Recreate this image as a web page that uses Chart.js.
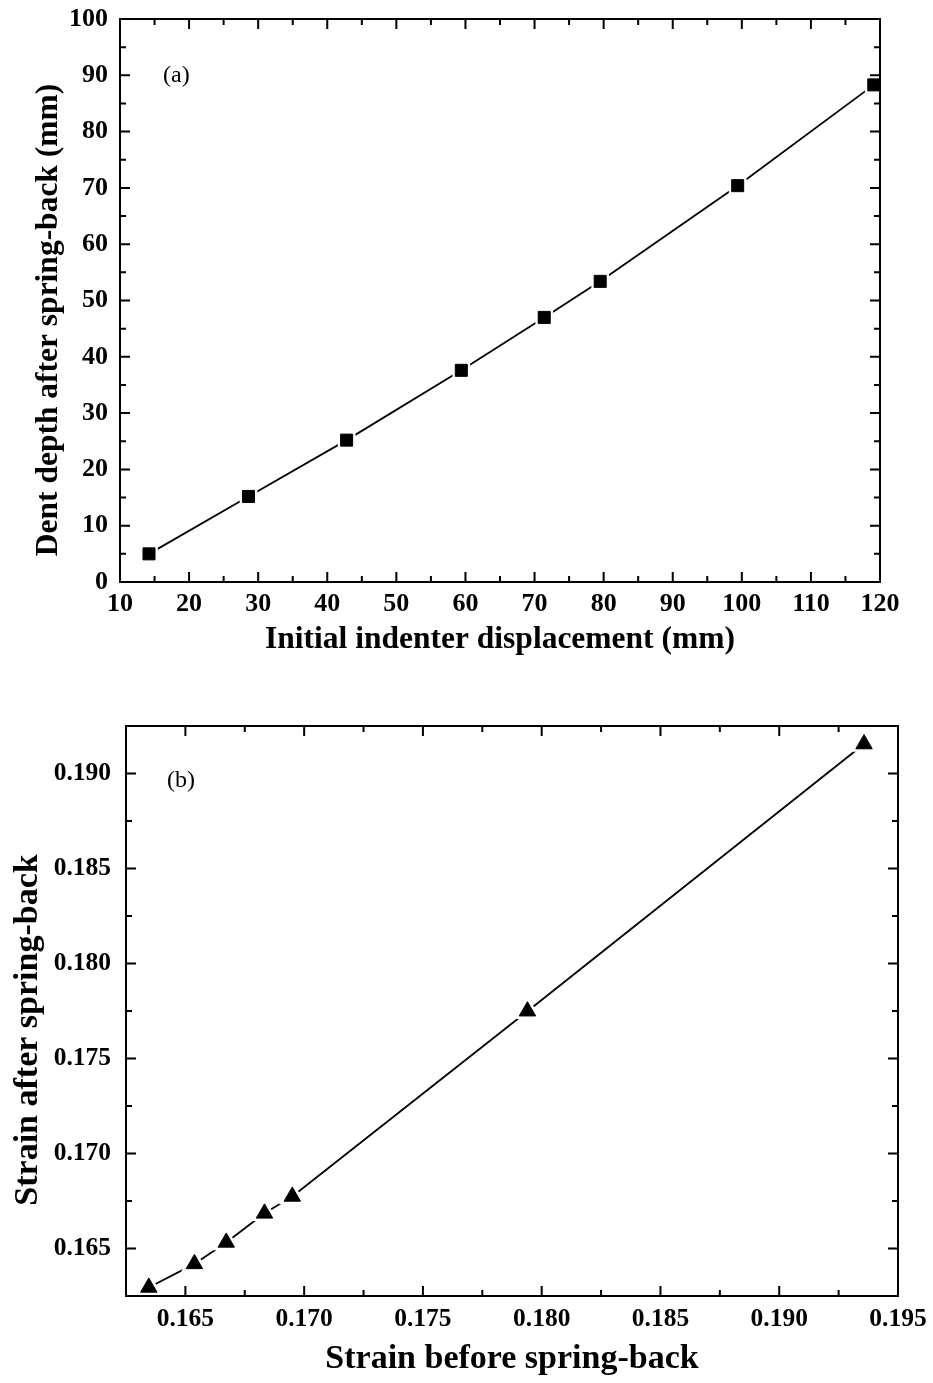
<!DOCTYPE html>
<html>
<head>
<meta charset="utf-8">
<title>Spring-back</title>
<script src="https://cdn.jsdelivr.net/npm/chart.js@4.4.1/dist/chart.umd.min.js"></script>
<style>
  html, body { margin: 0; padding: 0; background: #fff; }
  #wrap { position: relative; width: 933px; height: 1383px; }
  .panel { position: absolute; left: 0; width: 933px; }
</style>
</head>
<body>
<div id="wrap">
  <div class="panel" style="top:0;height:680px"><canvas id="chartA"></canvas></div>
  <div class="panel" style="top:680px;height:703px"><canvas id="chartB"></canvas></div>
</div>
<script>
// (a) indenter displacement vs. residual dent depth
const dispA = [14.2, 28.6, 42.8, 59.4, 71.4, 79.5, 99.4, 119.1];
const dentA = [5.0, 15.2, 25.2, 37.6, 47.0, 53.4, 70.4, 88.3];
const xTicksA = [10, 20, 30, 40, 50, 60, 70, 80, 90, 100, 110, 120];
const yTicksA = [0, 10, 20, 30, 40, 50, 60, 70, 80, 90, 100];

// (b) strain before vs. after spring-back
const strainBefore = [0.16346, 0.16538, 0.16672, 0.16833, 0.16950, 0.17940, 0.19357];
const strainAfter = [0.16295, 0.16419, 0.16532, 0.16685, 0.16774, 0.17749, 0.19155];
const xTicksB = [0.165, 0.170, 0.175, 0.180, 0.185, 0.190, 0.195];
const yTicksB = [0.165, 0.170, 0.175, 0.180, 0.185, 0.190];

const SERIF = '"Liberation Serif", "Times New Roman", serif';

function toPoints(xs, ys) {
    return xs.map(function (x, i) { return { x: x, y: ys[i] }; });
}

function midpoints(ticks) {
    var out = [];
    for (var i = 0; i < ticks.length - 1; i++) out.push((ticks[i] + ticks[i + 1]) / 2);
    return out;
}

// box frame, inward ticks on all four sides, axis titles and panel tag
const framePlugin = {
    id: 'frame',
    afterDraw: function (chart, args, opts) {
        const ctx = chart.ctx;
        const a = chart.chartArea;
        const xs = chart.scales.x, ys = chart.scales.y;
        ctx.save();
        ctx.strokeStyle = '#000';
        ctx.lineWidth = 2;
        ctx.lineCap = 'butt';

        function xTick(v, len) {
            const p = xs.getPixelForValue(v);
            if (p <= a.left + 1 || p >= a.right - 1) return;
            ctx.beginPath();
            ctx.moveTo(p, a.bottom); ctx.lineTo(p, a.bottom - len);
            ctx.moveTo(p, a.top); ctx.lineTo(p, a.top + len);
            ctx.stroke();
        }
        function yTick(v, len) {
            const p = ys.getPixelForValue(v);
            if (p <= a.top + 1 || p >= a.bottom - 1) return;
            ctx.beginPath();
            ctx.moveTo(a.left, p); ctx.lineTo(a.left + len, p);
            ctx.moveTo(a.right, p); ctx.lineTo(a.right - len, p);
            ctx.stroke();
        }
        opts.xTicks.forEach(function (v) { xTick(v, 10); });
        midpoints(opts.xTicks).forEach(function (v) { xTick(v, 6); });
        opts.yTicks.forEach(function (v) { yTick(v, 10); });
        midpoints(opts.yTicks).forEach(function (v) { yTick(v, 6); });
        if (opts.yMinorExtra) opts.yMinorExtra.forEach(function (v) { yTick(v, 6); });

        ctx.strokeRect(a.left, a.top, a.right - a.left, a.bottom - a.top);

        ctx.fillStyle = '#000';
        ctx.font = 'bold ' + opts.titleSize + 'px ' + SERIF;
        ctx.textAlign = 'center';
        ctx.textBaseline = 'alphabetic';
        ctx.fillText(opts.xTitle, opts.xTitleAt[0], opts.xTitleAt[1]);

        ctx.save();
        ctx.translate(opts.yTitleAt[0], opts.yTitleAt[1]);
        ctx.rotate(-Math.PI / 2);
        ctx.textBaseline = 'middle';
        ctx.fillText(opts.yTitle, 0, 0);
        ctx.restore();

        ctx.font = '24px ' + SERIF;
        ctx.textAlign = 'left';
        ctx.fillText(opts.tag, opts.tagAt[0], opts.tagAt[1]);
        ctx.restore();
    }
};

function makePanel(id, p) {
    const pts = toPoints(p.xs, p.ys);
    return new Chart(document.getElementById(id), {
        type: 'scatter',
        data: {
            datasets: [
                {   // markers
                    data: pts, pointStyle: p.marker, pointRadius: p.radius,
                    backgroundColor: '#000', borderColor: '#000', borderWidth: 1,
                    showLine: false, clip: false
                },
                {   // white knock-out so the line stops short of each marker
                    data: pts, pointStyle: p.marker, pointRadius: p.radius + p.gap,
                    backgroundColor: '#fff', borderColor: '#fff', borderWidth: 0,
                    showLine: false, clip: false
                },
                {   // connecting line
                    data: pts, pointRadius: 0, showLine: true,
                    borderColor: '#000', borderWidth: 1.8, tension: 0, fill: false
                }
            ]
        },
        options: {
            responsive: true,
            maintainAspectRatio: false,
            animation: false,
            events: [],
            layout: { padding: p.padding },
            plugins: {
                legend: { display: false },
                tooltip: { enabled: false },
                frame: p.frame
            },
            scales: {
                x: {
                    type: 'linear', min: p.xMin, max: p.xMax,
                    grid: { display: false, drawTicks: false },
                    border: { display: false },
                    afterBuildTicks: function (s) { s.ticks = p.frame.xTicks.map(function (v) { return { value: v }; }); },
                    afterFit: function (s) { s.height = p.xHeight; s.paddingLeft = 0; s.paddingRight = 0; },
                    ticks: {
                        padding: p.xPad, color: '#000', maxRotation: 0, autoSkip: false,
                        font: { family: SERIF, size: p.tickSize, weight: 'bold' },
                        callback: function (v) { return p.fmt(v); }
                    }
                },
                y: {
                    type: 'linear', min: p.yMin, max: p.yMax,
                    grid: { display: false, drawTicks: false },
                    border: { display: false },
                    afterBuildTicks: function (s) { s.ticks = p.frame.yTicks.map(function (v) { return { value: v }; }); },
                    afterFit: function (s) { s.width = p.yWidth; s.paddingTop = 0; s.paddingBottom = 0; },
                    ticks: {
                        padding: p.yPad, color: '#000', autoSkip: false,
                        font: { family: SERIF, size: p.tickSize, weight: 'bold' },
                        callback: function (v) { return p.fmt(v); }
                    }
                }
            }
        },
        plugins: [framePlugin]
    });
}

makePanel('chartA', {
    xs: dispA, ys: dentA, marker: 'rect', radius: 8.5, gap: 4,
    xMin: 10, xMax: 120, yMin: 0, yMax: 100,
    padding: { left: 0, top: 19, right: 53, bottom: 38 },
    yWidth: 120, xHeight: 60, xPad: 7, yPad: 12, tickSize: 26,
    fmt: function (v) { return String(Math.round(v)); },
    frame: {
        xTicks: xTicksA, yTicks: yTicksA, titleSize: 31.5,
        xTitle: 'Initial indenter displacement (mm)', xTitleAt: [500, 648],
        yTitle: 'Dent depth after spring-back (mm)', yTitleAt: [49, 320],
        tag: '(a)', tagAt: [163, 82]
    }
});

makePanel('chartB', {
    xs: strainBefore, ys: strainAfter, marker: 'triangle', radius: 9.5, gap: 6,
    xMin: 0.1625, xMax: 0.195, yMin: 0.1625, yMax: 0.1925,
    padding: { left: 0, top: 46, right: 35, bottom: 27 },
    yWidth: 126, xHeight: 60, xPad: 8, yPad: 15, tickSize: 25.5,
    fmt: function (v) { return v.toFixed(3); },
    frame: {
        xTicks: xTicksB, yTicks: yTicksB, yMinorExtra: [0.1875 + 0.005], titleSize: 34,
        xTitle: 'Strain before spring-back', xTitleAt: [512, 688],
        yTitle: 'Strain after spring-back', yTitleAt: [28, 350],
        tag: '(b)', tagAt: [167, 107]
    }
});
</script>
</body>
</html>
